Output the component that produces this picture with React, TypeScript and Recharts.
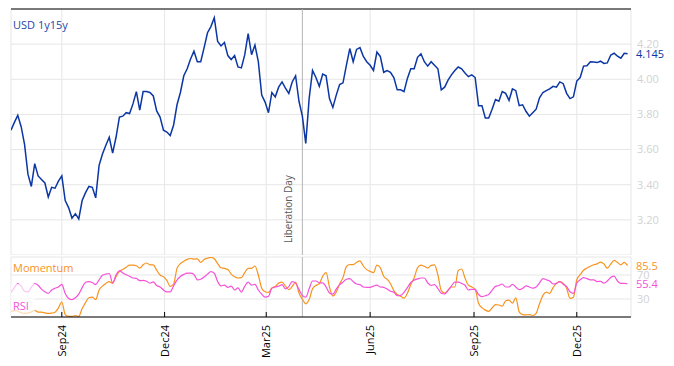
import { LineChart, Line, XAxis, YAxis, CartesianGrid, ReferenceLine } from "recharts";

const DAY = 86400000;
const START = Date.UTC(2024, 6, 18);
const END = START + 549 * DAY;
const STEP_DAYS = 3;

const TICK_DATES = [
  Date.UTC(2024, 8, 1),
  Date.UTC(2024, 11, 1),
  Date.UTC(2025, 2, 1),
  Date.UTC(2025, 5, 1),
  Date.UTC(2025, 8, 1),
  Date.UTC(2025, 11, 1),
];
const TICK_LABELS = ["Sep24", "Dec24", "Mar25", "Jun25", "Sep25", "Dec25"];
const LIBERATION_DAY = Date.UTC(2025, 3, 2);

const PRICE_TICKS = [3.2, 3.4, 3.6, 3.8, 4.0, 4.2];
const OSC_TICKS = [30, 70];

// USD 1y15y, one reading every 3 days
const price = [
  3.71, 3.755, 3.795, 3.73, 3.63, 3.46, 3.39, 3.52, 3.45, 3.43,
  3.41, 3.33, 3.385, 3.38, 3.42, 3.45, 3.31, 3.27, 3.21, 3.235,
  3.205, 3.31, 3.355, 3.39, 3.385, 3.325, 3.51, 3.575, 3.625, 3.67,
  3.58, 3.67, 3.785, 3.79, 3.81, 3.805, 3.86, 3.93, 3.825, 3.93,
  3.93, 3.925, 3.905, 3.82, 3.785, 3.71, 3.7, 3.68, 3.74, 3.855,
  3.925, 4.02, 4.06, 4.115, 4.16, 4.1, 4.1, 4.18, 4.265, 4.3,
  4.35, 4.215, 4.19, 4.21, 4.135, 4.112, 4.135, 4.07, 4.065, 4.14,
  4.26, 4.14, 4.195, 4.1, 3.91, 3.87, 3.81, 3.925, 3.9, 3.955,
  3.985, 3.95, 3.92, 3.985, 4.02, 3.875, 3.79, 3.635, 3.89, 4.05,
  4.01, 3.96, 4.03, 4.02, 3.89, 3.84, 3.91, 3.97, 3.98, 4.08,
  4.175, 4.1, 4.17, 4.18, 4.13, 4.1, 4.08, 4.05, 4.155, 4.13,
  4.04, 4.05, 4.04, 4.01, 3.94, 3.94, 3.93, 4.005, 4.06, 4.06,
  4.125, 4.145, 4.1, 4.075, 4.1, 4.08, 4.06, 3.94, 3.955, 3.995,
  4.025, 4.05, 4.07, 4.06, 4.036, 4.015, 4.025, 4.01, 3.85, 3.85,
  3.78, 3.78, 3.83, 3.885, 3.875, 3.93, 3.92, 3.88, 3.945, 3.935,
  3.85, 3.855, 3.818, 3.79, 3.81, 3.83, 3.895, 3.925, 3.935, 3.945,
  3.96, 3.955, 3.985, 3.975, 3.92, 3.89, 3.9, 3.99, 4.01, 4.075,
  4.077, 4.1, 4.098, 4.095, 4.103, 4.09, 4.093, 4.137, 4.148, 4.132,
  4.12, 4.148, 4.145,
];

const momentum = [
  9, 10.5, 10, 7, 6, 6.5, 8.5, 11, 8, 8,
  7, 6, 6.5, 8, 15, 25, 4, 1, 1, 2.5,
  1, 14, 24, 32, 33, 29, 45, 51.5, 56, 59,
  56, 67, 76, 79, 83, 86.5, 86.5, 85.5, 81.5, 87,
  90, 87, 87, 78, 70, 67, 61, 51, 55, 81,
  89, 93, 96, 97.5, 96.5, 97, 91, 96, 98, 99.5,
  97, 89, 82, 81, 79, 71.5, 67, 65, 65.5, 74,
  81, 81, 85, 70, 48, 42, 41, 48.5, 51, 56.5,
  58, 51.5, 45.5, 51, 58, 40, 30, 22, 29, 47,
  52.5, 55.5, 68, 74, 50, 35, 41.5, 55, 66, 84,
  87.5, 87.3, 91, 93.5, 85, 79, 76, 74, 86.5, 82,
  68, 63, 55.5, 44, 37.5, 34.5, 31.5, 39.5, 54, 65.5,
  82, 86.5, 84.5, 81.5, 86, 87, 70, 44, 40, 44.5,
  50, 50, 77.5, 80, 65, 53, 50, 46, 23, 15.5,
  11.5, 9.5, 15, 20.5, 20, 18, 27, 28, 23, 32,
  8.5, 4, 3.5, 4, 2.5, 6, 22, 36, 41.5, 39.5,
  49, 56, 59, 56, 48, 31, 33, 62, 70.5, 78,
  81.5, 84.5, 87, 88.5, 91.5, 88.5, 81.5, 88, 94.5, 91,
  87, 91, 85.5,
];

const rsi = [
  41, 49, 55.5, 51.5, 43, 42, 49.5, 55.5, 53, 46.5,
  42, 39.5, 45, 48, 50, 54.5, 39, 31, 29, 32,
  38, 49, 58, 59, 57.5, 54, 62, 69.5, 71.5, 72.5,
  57, 70, 77, 73.5, 70.5, 68, 65, 64.5, 60.5, 61,
  59.5, 56.5, 58.5, 52.5, 50, 45, 42, 42, 52, 61.5,
  67.5, 71, 73, 73, 71, 62, 63, 66.5, 71.5, 75.5,
  73, 59, 52, 53, 49.5, 51.5, 45, 48.5, 41.5, 51.5,
  58, 53, 54.5, 45, 38, 33, 34.5, 48, 50, 51.5,
  54, 47, 50.5, 59, 56.5, 46, 36, 33, 47, 60,
  60, 57, 57, 50, 40, 38, 46.5, 54, 58, 63,
  64, 59, 55, 54, 50, 49.5, 49.5, 51.5, 53, 50,
  49.5, 46.5, 43, 41.5, 35.5, 36, 41, 49, 57.5, 61.5,
  63.5, 65, 65, 57, 52.5, 54, 47.5, 39.5, 38.5, 44.5,
  52, 58, 58, 56, 53, 45, 46, 46, 37.5, 34,
  35.5, 37.5, 44.5, 51, 52.5, 55, 50, 50, 54.5, 50,
  45.5, 47.5, 52, 50, 48, 50, 57, 64, 62, 60,
  55, 56, 59, 54.5, 50.5, 42, 39.5, 56.5, 62, 65.5,
  64, 62, 62, 59, 59.5, 56.5, 60, 66, 68, 60,
  56, 56, 55.4,
];

const BLUE = "#0b36a3";
const ORANGE = "#f7931e";
const PINK = "#f552d8";
const GRID = "#e6e6e6";
const AXIS_GREY = "#d2d2d2";
const FONT = "'Open Sans', sans-serif";

const data = price.map((p, i) => ({
  date: START + i * STEP_DAYS * DAY,
  price: p,
  momentum: momentum[i],
  rsi: rsi[i],
}));

const lastPrice = price[price.length - 1];
const lastMomentum = momentum[momentum.length - 1];
const lastRsi = rsi[rsi.length - 1];

function InnerTick(props: any) {
  const { x, y } = props;
  return <line x1={x} y1={y} x2={x} y2={y - 6} stroke="#000" />;
}

function DateTick(props: any) {
  const { x, y, payload } = props;
  const idx = TICK_DATES.indexOf(payload.value);
  const tx = x + 4;
  const ty = y + 8;
  return (
    <g>
      <line x1={x} y1={y} x2={x} y2={y - 5} stroke="#000" />
      <text x={tx} y={ty} transform={`rotate(-90, ${tx}, ${ty})`} textAnchor="end" fontSize={11} fill="#000">
        {idx >= 0 ? TICK_LABELS[idx] : ""}
      </text>
    </g>
  );
}

function LibLabel(props: any) {
  const vb = props.viewBox || {};
  const x = vb.x - 10;
  const y = vb.y + vb.height - 12;
  return (
    <text x={x} y={y} transform={`rotate(-90, ${x}, ${y})`} fontSize={10} fill="#595959">
      Liberation Day
    </text>
  );
}

export default function App() {
  return (
    <div style={{ position: "absolute", left: 0, top: 0, width: 674, height: 366, background: "#fff", fontFamily: FONT }}>
      <div style={{ position: "absolute", left: 0, top: 0 }}>
        <LineChart width={674} height={255} data={data} margin={{ top: 9, right: 0, bottom: 0, left: 11 }}>
          <CartesianGrid stroke={GRID} />
          <XAxis
            dataKey="date"
            type="number"
            domain={[START, END]}
            allowDataOverflow
            ticks={TICK_DATES}
            interval={0}
            height={0}
            tickSize={0}
            tickMargin={0}
            tickLine={false}
            axisLine={{ stroke: "#000", strokeWidth: 1.2 }}
            tick={(p: any) => <InnerTick {...p} />}
          />
          <YAxis
            orientation="right"
            width={43}
            domain={[3.0, 4.4]}
            allowDataOverflow
            ticks={PRICE_TICKS}
            interval={0}
            axisLine={false}
            tickLine={false}
            tickSize={0}
            tickMargin={6}
            tick={{ fill: AXIS_GREY, fontSize: 11 }}
            tickFormatter={(v: number) => v.toFixed(2)}
          />
          <ReferenceLine y={4.4} stroke="#000" strokeWidth={1.2} />
          <ReferenceLine x={LIBERATION_DAY} stroke="#b5b5b5" label={<LibLabel />} />
          <Line dataKey="price" stroke={BLUE} strokeWidth={1.5} dot={false} type="linear" isAnimationActive={false} />
          <ReferenceLine
            y={lastPrice}
            stroke="none"
            label={{ value: lastPrice.toFixed(3), position: "right", fill: BLUE, fontSize: 11 }}
          />
        </LineChart>
      </div>
      <div style={{ position: "absolute", left: 0, top: 255 }}>
        <LineChart width={674} height={111} data={data} margin={{ top: 2, right: 0, bottom: 0, left: 11 }}>
          <CartesianGrid stroke={GRID} />
          <XAxis
            dataKey="date"
            type="number"
            domain={[START, END]}
            allowDataOverflow
            ticks={TICK_DATES}
            interval={0}
            height={49}
            tickSize={0}
            tickMargin={0}
            tickLine={false}
            axisLine={{ stroke: "#000", strokeWidth: 1.2 }}
            tick={(p: any) => <DateTick {...p} />}
          />
          <YAxis
            orientation="right"
            width={43}
            domain={[0, 100]}
            allowDataOverflow
            ticks={OSC_TICKS}
            interval={0}
            axisLine={false}
            tickLine={false}
            tickSize={0}
            tickMargin={6}
            tick={{ fill: AXIS_GREY, fontSize: 11 }}
          />
          <ReferenceLine x={LIBERATION_DAY} stroke="#b5b5b5" />
          <Line dataKey="momentum" stroke={ORANGE} strokeWidth={1.2} dot={false} type="monotone" isAnimationActive={false} />
          <Line dataKey="rsi" stroke={PINK} strokeWidth={1.2} dot={false} type="monotone" isAnimationActive={false} />
          <ReferenceLine
            y={lastMomentum}
            stroke="none"
            label={{ value: lastMomentum.toFixed(1), position: "right", fill: ORANGE, fontSize: 11 }}
          />
          <ReferenceLine
            y={lastRsi}
            stroke="none"
            label={{ value: lastRsi.toFixed(1), position: "right", fill: PINK, fontSize: 11 }}
          />
        </LineChart>
      </div>
      <svg width={674} height={366} style={{ position: "absolute", left: 0, top: 0, pointerEvents: "none" }}>
        <text x={13} y={28.5} fontSize={11} fill="#1f45a8">USD 1y15y</text>
        <rect x={11} y={284} width={24} height={32} fill="#fff" opacity={0.65} />
        <text x={13} y={272} fontSize={11} fill={ORANGE}>Momentum</text>
        <text x={13} y={309.5} fontSize={11} fill={PINK}>RSI</text>
      </svg>
    </div>
  );
}
